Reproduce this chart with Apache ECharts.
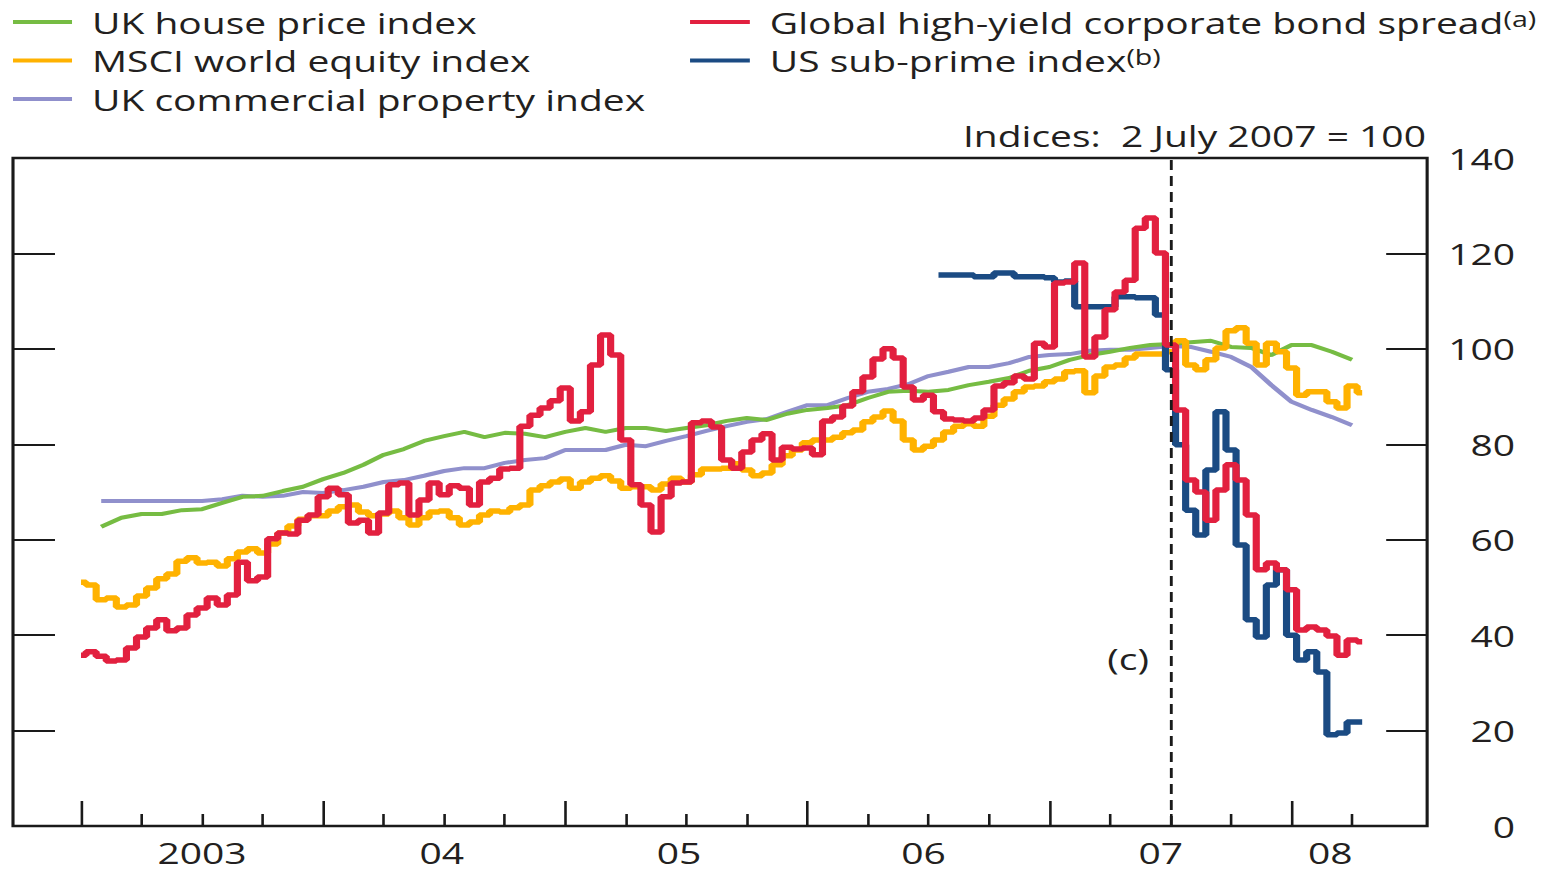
<!DOCTYPE html>
<html>
<head>
<meta charset="utf-8">
<script src="https://cdn.jsdelivr.net/npm/echarts@6/dist/echarts.min.js"></script>
<style>
  html, body { margin: 0; padding: 0; background: #fff; overflow: hidden; }
  #wrap { width: 1565px; height: 872px; overflow: hidden; }
  /* the chart is laid out on a narrower canvas and widened horizontally */
  #chart { width: 1204px; height: 872px; transform: scaleX(1.3); transform-origin: 0 0; }
</style>
</head>
<body>
<div id="wrap"><div id="chart"></div></div>
<script>
// Indices: 2 July 2007 = 100
const seriesNames = [
  'UK house price index',
  'MSCI world equity index',
  'UK commercial property index',
  'Global high-yield corporate bond spread',
  'US sub-prime index'
];
const yearLabels = ['2003', '04', '05', '06', '07', '08'];
const yearLabelPos = [2003.5, 2004.49, 2005.47, 2006.48, 2007.46, 2008.16];
const yearTicks = [2003, 2004, 2005, 2006, 2007, 2008];
const quarterTicks = [2003.25, 2003.5, 2003.75, 2004.25, 2004.5, 2004.75, 2005.25, 2005.5, 2005.75,
  2006.25, 2006.5, 2006.75, 2007.25, 2007.5, 2007.75, 2008.25];
const yTicks = [0, 20, 40, 60, 80, 100, 120, 140];

// half-monthly observations from the start of 2003
const halfMonthStart = 2003;
const bondSpread = [
  35.8, 36.5, 35.6, 34.6, 34.8, 37.3, 39.6, 41.5, 43.2, 40.9,
  41.5, 44.2, 45.7, 47.8, 46.3, 48.4, 55.3, 51.4, 52.2, 60.2,
  61.4, 61.2, 64.1, 65.2, 69.0, 70.8, 69.4, 63.5, 64.1, 61.4,
  65.6, 71.5, 71.9, 65.2, 68.3, 71.9, 69.4, 71.3, 70.8, 67.3,
  72.1, 72.9, 74.8, 75.0, 83.8, 86.1, 87.6, 89.1, 91.8, 84.9,
  86.8, 96.6, 102.9, 98.7, 80.9, 71.5, 67.3, 61.6, 69.0, 71.9,
  72.1, 84.5, 84.9, 83.6, 76.7, 75.0, 78.4, 80.9, 82.2, 76.7,
  79.4, 79.0, 79.2, 77.8, 84.9, 85.7, 88.0, 91.0, 94.1, 97.9,
  100.0, 98.1, 92.0, 89.3, 90.3, 86.8, 85.3, 85.1, 84.9, 85.5,
  87.2, 92.2, 92.9, 94.3, 93.7, 101.2, 100.4, 113.8, 114.0, 118.0,
  98.3, 102.5, 108.2, 111.9, 114.4, 125.3, 127.4, 120.1, 100.8, 87.2,
  72.5, 70.0, 64.1, 70.4, 75.7, 72.5, 65.2, 53.7, 55.1, 53.7,
  49.5, 41.1, 41.7, 41.1, 39.8, 35.8, 39.0, 38.6
];
const worldEquity = [
  51.1, 50.5, 47.4, 47.8, 45.9, 46.3, 48.2, 49.9, 51.8, 52.8,
  55.5, 56.2, 55.1, 55.3, 54.5, 56.0, 57.4, 58.1, 57.2, 59.1,
  61.4, 62.9, 64.3, 65.0, 65.0, 66.0, 66.9, 67.3, 65.8, 65.0,
  65.4, 66.0, 64.6, 63.1, 64.6, 65.8, 66.0, 64.6, 63.1, 63.7,
  65.2, 66.0, 65.8, 66.7, 67.3, 70.4, 71.3, 72.1, 72.7, 70.8,
  72.1, 72.9, 73.4, 72.3, 70.8, 71.1, 71.1, 70.4, 71.7, 72.9,
  72.1, 73.6, 74.8, 74.8, 75.0, 75.9, 74.6, 73.4, 74.0, 75.7,
  77.6, 78.8, 80.3, 80.9, 80.9, 81.5, 82.4, 83.0, 84.7, 85.7,
  87.0, 84.9, 80.9, 78.8, 79.6, 80.9, 82.6, 83.8, 84.3, 83.8,
  85.9, 88.2, 89.5, 91.0, 92.0, 92.2, 93.1, 93.7, 95.2, 95.4,
  90.8, 94.3, 96.2, 96.6, 98.1, 98.9, 98.9, 98.9, 99.4, 101.7,
  96.6, 95.6, 97.7, 100.2, 103.8, 104.4, 101.2, 96.6, 101.2, 99.4,
  96.0, 90.3, 91.0, 91.0, 88.9, 87.6, 92.2, 90.8
];
// sub-prime index starts at half-month 85 (mid-2006)
const subprimeOffset = 85;
const subprime = [
  115.5, 115.5, 115.5, 115.5, 115.1, 115.1, 115.9, 115.9, 115.1, 115.1,
  115.1, 114.9, 114.0, 114.2, 108.8, 108.8, 108.8, 108.8, 110.9, 110.9,
  110.7, 110.7, 107.1, 95.6, 79.9, 66.2, 61.0, 74.6, 86.8, 78.8,
  58.9, 43.2, 39.6, 50.5, 53.7, 40.0, 34.8, 36.5, 32.3, 19.1,
  19.5, 21.8, 21.8
];

// monthly observations from February 2003
const monthStart = 2003 + 1 / 12;
const housePrice = [
  62.7, 64.6, 65.4, 65.4, 66.2, 66.4, 67.7, 69.0, 69.2, 70.2,
  71.1, 72.7, 74.0, 75.7, 77.8, 79.0, 80.7, 81.7, 82.6, 81.5,
  82.4, 82.2, 81.5, 82.6, 83.4, 82.6, 83.4, 83.4, 82.8, 83.4,
  84.0, 84.9, 85.5, 85.1, 86.4, 87.2, 87.6, 88.2, 89.7, 91.0,
  91.2, 91.0, 91.4, 92.4, 93.1, 93.9, 95.4, 96.2, 97.7, 98.7,
  99.4, 100.2, 100.8, 101.0, 101.4, 101.7, 100.4, 100.2, 98.7, 100.8,
  100.8, 99.4, 97.7
];
const commercialProperty = [
  68.1, 68.1, 68.1, 68.1, 68.1, 68.1, 68.5, 69.2, 69.0, 69.2,
  70.0, 69.8, 70.4, 71.1, 72.1, 72.5, 73.4, 74.4, 75.0, 75.0,
  76.1, 76.7, 77.1, 78.8, 78.8, 78.8, 79.9, 79.6, 80.7, 81.7,
  82.8, 83.8, 84.7, 85.3, 86.8, 88.2, 88.2, 89.7, 91.0, 91.6,
  92.6, 94.3, 95.2, 96.2, 96.2, 97.0, 98.3, 98.7, 98.9, 99.6,
  99.8, 99.8, 100.2, 100.6, 100.4, 99.4, 98.3, 96.2, 92.4, 88.9,
  87.2, 85.7, 84.0
];
const baseDate = 2007.5;   // 2 July 2007
const noteLabelPos = [2007.325, 35.2];

const colors = {
  house: '#76bc43',
  equity: '#ffb200',
  property: '#9090cc',
  spread: '#e2203f',
  subprime: '#1b4b83'
};
const FONT = '"Open Sans", "DejaVu Sans", sans-serif';
const TEXT = '#231f20';
const INK = '#1a1a1a';

const halfMonthly = (vals, offset) => vals.map((v, i) => [halfMonthStart + (i + offset) / 24, v]);
const monthly = vals => vals.map((v, i) => [monthStart + i / 12, v]);

const chart = echarts.init(document.getElementById('chart'), null, { renderer: 'svg' });

const xMin = 2002.719, xMax = 2008.56;

const baseX = {
  type: 'value', min: xMin, max: xMax, position: 'bottom',
  axisLine: { show: false }, splitLine: { show: false }
};

const legendText = { fontFamily: FONT, fontSize: 30, color: TEXT, lineHeight: 38, padding: [0, 0, 0, 10.4] };

chart.setOption({
  animation: false,
  title: {
    text: 'Indices:  2 July 2007 = 100'.replace('  ', ' \u00a0'),
    right: 107, top: 120, padding: 0,
    textStyle: { fontFamily: FONT, fontSize: 30, fontWeight: 'normal', color: TEXT }
  },
  legend: [
    {
      left: 10, top: 3, padding: 0, orient: 'vertical', icon: 'rect',
      itemWidth: 45.4, itemHeight: 4, itemGap: 0.5, selectedMode: false,
      data: [seriesNames[0], seriesNames[1], seriesNames[2]],
      textStyle: legendText
    },
    {
      left: 530.8, top: 3, padding: 0, orient: 'vertical', icon: 'rect',
      itemWidth: 46, itemHeight: 4, itemGap: 0.5, selectedMode: false,
      data: [seriesNames[3], seriesNames[4]],
      formatter: name => name + (name === seriesNames[3] ? '{sup|(a)}' : '{sup|(b)}'),
      textStyle: Object.assign({}, legendText, {
        rich: { sup: { fontFamily: FONT, fontSize: 22, color: TEXT, verticalAlign: 'top', lineHeight: 24, padding: [4, 0, 0, 0] } }
      })
    }
  ],
  grid: {
    left: 10, right: 106.2, top: 158, bottom: 46,
    containLabel: false, outerBoundsMode: 'none',
    show: true, borderColor: INK, borderWidth: 2.4, backgroundColor: 'transparent'
  },
  xAxis: [
    Object.assign({}, baseX, {
      axisTick: { show: true, inside: true, length: 25, customValues: yearTicks, lineStyle: { color: INK, width: 2 } },
      axisLabel: {
        show: true, customValues: yearLabelPos, margin: 11,
        formatter: v => yearLabels[yearLabelPos.findIndex(p => Math.abs(p - v) < 1e-6)] || '',
        fontFamily: FONT, fontSize: 30, color: TEXT
      }
    }),
    Object.assign({}, baseX, {
      axisTick: { show: true, inside: true, length: 12, customValues: quarterTicks, lineStyle: { color: INK, width: 2 } },
      axisLabel: { show: false }
    })
  ],
  yAxis: [
    {
      type: 'value', min: 0, max: 140, interval: 20, position: 'right',
      axisLine: { show: false }, splitLine: { show: false },
      axisTick: { show: true, inside: true, length: 31.5, lineStyle: { color: INK, width: 2 } },
      axisLabel: { show: true, align: 'right', margin: 67.7, fontFamily: FONT, fontSize: 30, color: TEXT,
        formatter: v => yTicks.includes(v) ? String(v) : '' }
    },
    {
      type: 'value', min: 0, max: 140, interval: 20, position: 'left',
      axisLine: { show: false }, splitLine: { show: false },
      axisTick: { show: true, inside: true, length: 32.3, lineStyle: { color: INK, width: 2 } },
      axisLabel: { show: false }
    }
  ],
  series: [
    {
      name: seriesNames[2], type: 'line', data: monthly(commercialProperty),
      symbol: 'none', lineStyle: { color: colors.property, width: 4 }, itemStyle: { color: colors.property },
      emphasis: { disabled: true }
    },
    {
      name: seriesNames[0], type: 'line', data: monthly(housePrice),
      symbol: 'none', lineStyle: { color: colors.house, width: 4 }, itemStyle: { color: colors.house },
      emphasis: { disabled: true }
    },
    {
      name: seriesNames[1], type: 'line', data: halfMonthly(worldEquity, 0), step: 'middle',
      symbol: 'none', lineStyle: { color: colors.equity, width: 5.5 }, itemStyle: { color: colors.equity },
      emphasis: { disabled: true }
    },
    {
      name: seriesNames[4], type: 'line', data: halfMonthly(subprime, subprimeOffset), step: 'middle',
      symbol: 'none', lineStyle: { color: colors.subprime, width: 5.5 }, itemStyle: { color: colors.subprime },
      emphasis: { disabled: true }
    },
    {
      name: seriesNames[3], type: 'line', data: halfMonthly(bondSpread, 0), step: 'middle',
      symbol: 'none', lineStyle: { color: colors.spread, width: 5.5 }, itemStyle: { color: colors.spread },
      emphasis: { disabled: true },
      markLine: {
        silent: true, symbol: 'none', animation: false,
        lineStyle: { color: INK, width: 2.2, type: [10, 6] },
        label: { show: false },
        data: [{ xAxis: baseDate }]
      },
      markPoint: {
        silent: true, symbol: 'rect', symbolSize: 0,
        label: { show: true, position: 'inside', formatter: '(c)', fontFamily: FONT, fontSize: 30, color: TEXT },
        data: [{ coord: noteLabelPos }]
      }
    }
  ]
});
</script>
</body>
</html>
